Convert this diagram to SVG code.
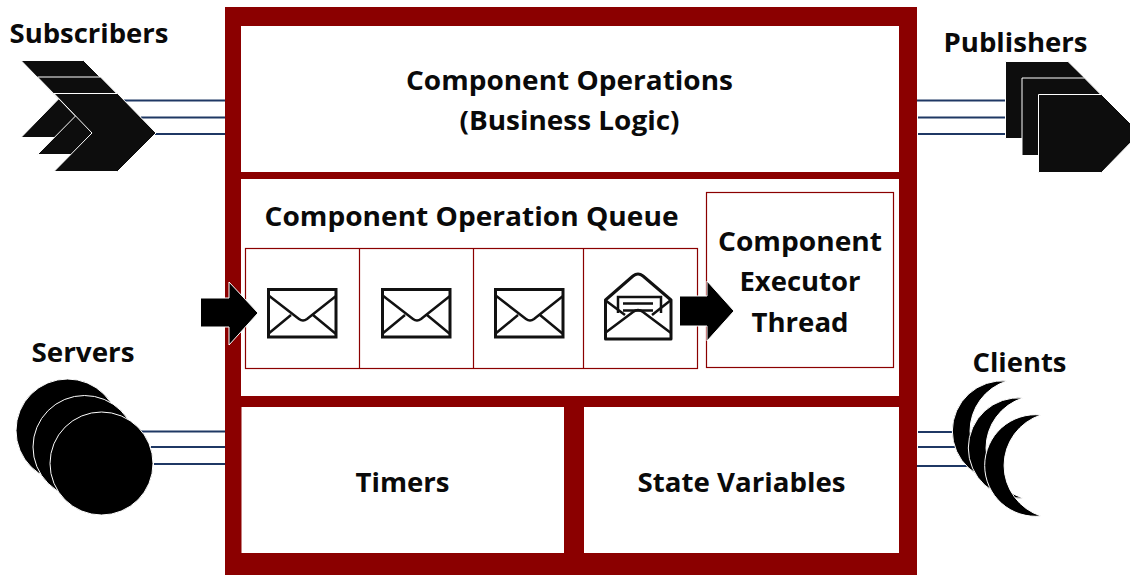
<svg xmlns="http://www.w3.org/2000/svg" width="1130" height="575" viewBox="0 0 1130 575">
<style>
text{font-family:"Open Sans","Noto Sans","Liberation Sans",sans-serif;font-weight:700;font-size:27.5px;fill:#0a0a0a}
.wh{fill:#fff}
.box{fill:#fff;stroke:#8b0000;stroke-width:1.2}
.lnk{stroke:#1f3864;stroke-width:1.8;fill:none}
.sh{fill:#0d0d0d;stroke:#fff;stroke-width:1}
.blk{fill:#000;stroke:#fff;stroke-width:1}
.env{fill:none;stroke:#111;stroke-width:2.500}
</style>
<defs>
<g id="envelope">
<rect x="268.500" y="289.500" width="67.500" height="47.500" fill="#fff" stroke="#111" stroke-width="3"/>
<path class="env" d="M268,295L299,319Q303,322 307,319L336,296M268,334L291,315M336,334L313,315"/>
</g>
</defs>
<g id="frame">
<rect x="225" y="7" width="692" height="568" fill="#8b0000"/>
</g>
<g id="operations">
<rect class="wh" x="241" y="26" width="658" height="146"/>
<text x="569.500" y="90" text-anchor="middle" textLength="327" lengthAdjust="spacingAndGlyphs">Component Operations</text>
<text x="569.500" y="130" text-anchor="middle" textLength="220" lengthAdjust="spacingAndGlyphs">(Business Logic)</text>
</g>
<g id="queue-area">
<rect class="wh" x="241" y="179" width="658" height="217"/>
<text x="264.500" y="226" textLength="414" lengthAdjust="spacingAndGlyphs">Component Operation Queue</text>
</g>
<g id="queue">
<rect class="box" x="245.500" y="248.500" width="452" height="120"/>
<path d="M359.500,248V368M473.500,248V368M583.500,248V368" stroke="#8b0000" stroke-width="1.200" fill="none"/>
<use href="#envelope"/>
<use href="#envelope" x="114"/>
<use href="#envelope" x="227"/>
<g id="open-envelope">
<path d="M605.500,300L633,276Q638,272 643,276L671,300V339H605.500Z" fill="#fff" stroke="#111" stroke-width="3" stroke-linejoin="round"/>
<path d="M618,313V297H661V313" fill="none" stroke="#111" stroke-width="2.500"/>
<path d="M623,303.500H653M623,310.500H653" stroke="#111" stroke-width="2.500"/>
<path d="M605,333L633,312Q638,308 643,312L671,333M605,300L625,315M671,300L652,315" fill="none" stroke="#111" stroke-width="2.500"/>
</g>
</g>
<g id="executor">
<rect class="box" x="706.500" y="192.500" width="187" height="175"/>
<text x="800" y="250.500" text-anchor="middle" textLength="164" lengthAdjust="spacingAndGlyphs">Component</text>
<text x="800" y="290.500" text-anchor="middle" textLength="121" lengthAdjust="spacingAndGlyphs">Executor</text>
<text x="800" y="331.500" text-anchor="middle" textLength="97" lengthAdjust="spacingAndGlyphs">Thread</text>
</g>
<g id="timers">
<rect class="wh" x="241.500" y="407" width="322.500" height="146"/>
<text x="402.500" y="492" text-anchor="middle" textLength="94" lengthAdjust="spacingAndGlyphs">Timers</text>
</g>
<g id="state-variables">
<rect class="wh" x="584" y="407" width="315" height="146"/>
<text x="741.500" y="492" text-anchor="middle" textLength="208" lengthAdjust="spacingAndGlyphs">State Variables</text>
</g>
<g id="connectors">
<path class="lnk" d="M124,100.500H225M141,117.500H225M155,134H225"/>
<path class="lnk" d="M917,100.500H1005M918,117.500H1021M918,134H1038"/>
<path class="lnk" d="M141,431.500H225M151,447H225M154,464H225"/>
<path class="lnk" d="M918,432H952M918,447H968M917,466H985"/>
<path d="M200.500,298H229V282L258,313L229,345V327H200.500Z" fill="#000" stroke="#fff" stroke-width="1"/>
<path d="M679.500,296H707V281L734,311L707,341V326H679.500Z" fill="#000" stroke="#fff" stroke-width="1"/>
</g>
<g id="subscribers">
<text x="9.500" y="43" textLength="159" lengthAdjust="spacingAndGlyphs">Subscribers</text>
<path class="sh" d="M21,60.500H83.500L123,100L84.500,137.500H21L58.500,99Z"/>
<path class="sh" d="M37.500,77H100.500L139,116L100.500,154.500H37.500L75.500,116Z"/>
<path class="sh" d="M54,93.500H117.500L156,133L117.500,171.500H54L92,133Z"/>
</g>
<g id="publishers">
<text x="943.500" y="52" textLength="144" lengthAdjust="spacingAndGlyphs">Publishers</text>
<path class="sh" d="M1005.500,61.500H1068L1107,100L1068,138.500H1005.500Z"/>
<path class="sh" d="M1022,78H1084.500L1123,117L1084.500,155.500H1022Z"/>
<path class="sh" d="M1038.500,94.500H1101.500L1140,133L1101.500,172.500H1038.500Z"/>
</g>
<g id="servers">
<text x="31.500" y="362" textLength="103" lengthAdjust="spacingAndGlyphs">Servers</text>
<circle class="blk" cx="67.500" cy="430.500" r="51.500"/>
<circle class="blk" cx="84.500" cy="447" r="51.500"/>
<circle class="blk" cx="101.500" cy="463.500" r="51.500"/>
</g>
<g id="clients">
<text x="972.500" y="372" textLength="94" lengthAdjust="spacingAndGlyphs">Clients</text>
<path class="blk" d="M1007,381A50.200,50.200 0 1 0 1007,481A52.300,52.300 0 0 1 1007,381Z"/>
<path class="blk" d="M1023,398A50.200,50.200 0 1 0 1023,498A52.300,52.300 0 0 1 1023,398Z"/>
<path class="blk" d="M1041,415A50.800,50.800 0 1 0 1041,516A53,53 0 0 1 1041,415Z"/>
</g>
</svg>
